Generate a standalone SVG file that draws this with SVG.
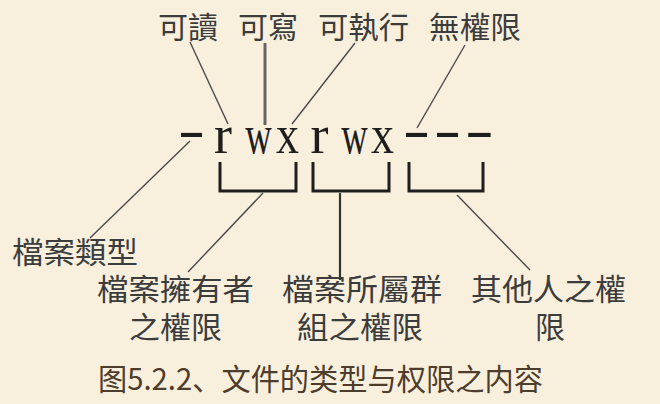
<svg xmlns="http://www.w3.org/2000/svg" width="660" height="404" viewBox="0 0 660 404">
<style>
.lbl{font-family:"Liberation Sans","Noto Sans CJK TC","Noto Sans CJK SC",sans-serif;font-size:30px;fill:#3c3c3c}
.perm{font-family:"Liberation Serif",serif;font-size:54px;fill:#1e1e1e;text-anchor:middle}
.cap{font-family:"Noto Sans CJK SC","Noto Sans CJK TC",serif;font-size:30px;fill:#4e3d2c}
.thin{stroke:#4a4a4a;stroke-width:1.4;fill:none}
.thick{stroke:#666;stroke-width:3;fill:none}
.br{stroke:#1e1e1e;stroke-width:3;fill:none}
</style>
<rect width="660" height="404" fill="#F8F0DD"/>
<g id="connectors">
<line class="thin" x1="190" y1="42" x2="228" y2="124"/>
<line class="thick" x1="265" y1="43" x2="265" y2="125"/>
<line class="thin" x1="355" y1="43" x2="292" y2="124"/>
<line class="thin" x1="465" y1="45" x2="417" y2="128"/>
<line class="thin" x1="190" y1="141" x2="90" y2="238"/>
<line class="thin" x1="263" y1="193" x2="188" y2="272"/>
<line class="br" x1="340" y1="193" x2="340" y2="280" style="stroke-width:2.2;stroke:#333"/>
<line class="thin" x1="457" y1="195" x2="530" y2="270"/>
<path class="br" d="M220,162 V191 H296 V162"/>
<path class="br" d="M313,162 V191 H389 V162"/>
<path class="br" d="M409,162 V191 H483 V162"/>
</g>
<g id="top-labels">
<text id="read" class="lbl" x="158" y="38" textLength="60" lengthAdjust="spacingAndGlyphs">可讀</text>
<text id="write" class="lbl" x="238" y="38" textLength="60" lengthAdjust="spacingAndGlyphs">可寫</text>
<text id="exec" class="lbl" x="318" y="38" textLength="91" lengthAdjust="spacingAndGlyphs">可執行</text>
<text id="none" class="lbl" x="429" y="38" textLength="92" lengthAdjust="spacingAndGlyphs">無權限</text>
</g>
<g id="perms">
<text class="perm" transform="translate(191.5,148) scale(1.5,1)">-</text>
<text class="perm" transform="translate(223,153) scale(1.0,1)">r</text>
<text class="perm" transform="translate(258.5,153) scale(0.68,1)">w</text>
<text class="perm" transform="translate(287.5,153) scale(0.85,1)">x</text>
<text class="perm" transform="translate(319.5,153) scale(1.0,1)">r</text>
<text class="perm" transform="translate(354.5,153) scale(0.68,1)">w</text>
<text class="perm" transform="translate(382.5,153) scale(0.85,1)">x</text>
<text class="perm" transform="translate(416.5,148) scale(1.5,1)">-</text>
<text class="perm" transform="translate(447.5,148) scale(1.5,1)">-</text>
<text class="perm" transform="translate(479.5,148) scale(1.6,1)">-</text>
</g>
<g id="type">
<text class="lbl" x="12" y="263" textLength="126" lengthAdjust="spacingAndGlyphs">檔案類型</text>
</g>
<g id="owner">
<text class="lbl"><tspan x="97" y="300" textLength="157" lengthAdjust="spacingAndGlyphs">檔案擁有者</tspan><tspan x="129" y="338" textLength="93" lengthAdjust="spacingAndGlyphs">之權限</tspan></text>
</g>
<g id="group">
<text class="lbl"><tspan x="282" y="300" textLength="160" lengthAdjust="spacingAndGlyphs">檔案所屬群</tspan><tspan x="297" y="338" textLength="126" lengthAdjust="spacingAndGlyphs">組之權限</tspan></text>
</g>
<g id="others">
<text class="lbl"><tspan x="471" y="300" textLength="155" lengthAdjust="spacingAndGlyphs">其他人之權</tspan><tspan x="535" y="338" textLength="30" lengthAdjust="spacingAndGlyphs">限</tspan></text>
</g>
<g id="caption">
<text class="cap" x="98" y="390" textLength="445" lengthAdjust="spacingAndGlyphs">图5.2.2、文件的类型与权限之内容</text>
</g>
</svg>
